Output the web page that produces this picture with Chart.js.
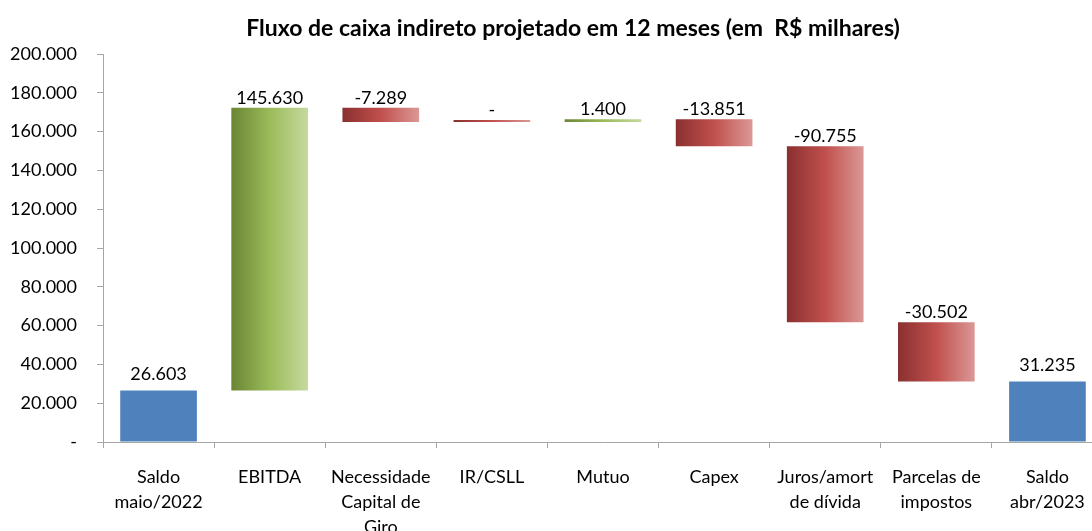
<!DOCTYPE html>
<html>
<head>
<meta charset="utf-8">
<script src="https://cdn.jsdelivr.net/npm/chart.js@4.4.1/dist/chart.umd.min.js"></script>
<style>
    html, body { margin: 0; padding: 0; background: #fff; overflow: hidden; }
    #wrap { width: 1105px; height: 531px; }
</style>
</head>
<body>
<div id="wrap"><canvas id="waterfall"></canvas></div>
<script>
// Chart data (R$ milhares)
const labels = [
    ['Saldo', 'maio/2022'],
    'EBITDA',
    ['Necessidade', 'Capital de', 'Giro'],
    'IR/CSLL',
    'Mutuo',
    'Capex',
    ['Juros/amort', 'de dívida'],
    ['Parcelas de', 'impostos'],
    ['Saldo', 'abr/2023']
];
const changes = [26603, 145630, -7289, 0, 1400, -13851, -90755, -30502, 31235];
const isTotal = [true, false, false, false, false, false, false, false, true];
const yTicks = [0, 20000, 40000, 60000, 80000, 100000, 120000, 140000, 160000, 180000, 200000];

const titleText = 'Fluxo de caixa indireto projetado em 12 meses (em  R$ milhares)';
const barPct = 0.69;

// build floating ranges for the waterfall
let running = 0;
const ranges = changes.map(function (v, i) {
    if (isTotal[i]) {
        running = v;
        return [0, v];
    }
    const start = running;
    running += v;
    return [start, running];
});

// number format like 145.630 / -7.289 / '-'
function fmt(v) {
    if (v === 0) return '-';
    const s = Math.abs(v).toString().replace(/\B(?=(\d{3})+(?!\d))/g, '.');
    return (v < 0 ? '-' : '') + s;
}

// horizontal gradient across each bar
function barColor(ctx) {
    const i = ctx.dataIndex;
    if (isTotal[i]) return '#4F81BD';
    const chart = ctx.chart;
    if (!chart.chartArea || !chart.scales.x) return '#C0504D';
    const xs = chart.scales.x;
    const cx = xs.getPixelForValue(i);
    const half = xs.width / labels.length * barPct / 2;
    const g = chart.ctx.createLinearGradient(cx - half, 0, cx + half, 0);
    if (changes[i] > 0) {
        g.addColorStop(0, '#6A8535');
        g.addColorStop(0.5, '#9BBB59');
        g.addColorStop(1, '#C6D99F');
    } else {
        g.addColorStop(0, '#8A3030');
        g.addColorStop(0.5, '#C0504D');
        g.addColorStop(1, '#DB9896');
    }
    return g;
}

// title drawn by hand so it can sit where the original has it
const titlePlugin = {
    id: 'manualTitle',
    afterDraw(chart) {
        const c = chart.ctx;
        c.save();
        c.font = 'bold 23px Lato';
        c.fillStyle = '#000';
        c.textAlign = 'center';
        c.textBaseline = 'middle';
        c.fillText(titleText, 573, 29);
        c.restore();
    }
};

// value labels above the bars
const valueLabels = {
    id: 'valueLabels',
    afterDatasetsDraw(chart) {
        const c = chart.ctx;
        const meta = chart.getDatasetMeta(0);
        c.save();
        c.font = '18px Lato';
        c.fillStyle = '#000';
        c.textAlign = 'center';
        c.textBaseline = 'alphabetic';
        meta.data.forEach(function (bar, i) {
            const top = Math.min(bar.y, bar.base);
            const gap = isTotal[i] ? 10 : 4;
            c.fillText(fmt(changes[i]), bar.x, top - gap);
        });
        c.restore();
    }
};

const ctx = document.getElementById('waterfall').getContext('2d');
const waterfall = new Chart(ctx, {
    type: 'bar',
    data: {
        labels: labels,
        datasets: [{
            data: ranges,
            backgroundColor: barColor,
            borderWidth: 0,
            borderSkipped: false,
            minBarLength: 2,
            barPercentage: barPct,
            categoryPercentage: 1
        }]
    },
    options: {
        responsive: true,
        maintainAspectRatio: false,
        animation: false,
        layout: { padding: { top: 54, right: 2, left: 0, bottom: 0 } },
        plugins: {
            legend: { display: false },
            title: { display: false },
            tooltip: { enabled: false }
        },
        scales: {
            x: {
                afterFit: function (scale) { scale.height = 89; },
                border: { color: '#A6A6A6', width: 1 },
                grid: {
                    drawOnChartArea: false,
                    drawTicks: true,
                    tickLength: 6,
                    color: '#A6A6A6',
                    offset: true
                },
                ticks: {
                    color: '#000',
                    font: { family: 'Lato', size: 18, lineHeight: 1.39 },
                    padding: 17,
                    maxRotation: 0,
                    autoSkip: false
                }
            },
            y: {
                min: 0,
                max: 200000,
                afterFit: function (scale) { scale.width = 103; },
                afterBuildTicks: function (scale) {
                    scale.ticks = yTicks.map(v => ({ value: v }));
                },
                border: { color: '#A6A6A6', width: 1 },
                grid: {
                    drawOnChartArea: false,
                    drawTicks: true,
                    tickLength: 6,
                    color: '#A6A6A6'
                },
                ticks: {
                    color: '#000',
                    font: { family: 'Lato', size: 18 },
                    padding: 20,
                    callback: function (v) { return fmt(v); }
                }
            }
        }
    },
    plugins: [titlePlugin, valueLabels]
});
</script>
</body>
</html>
